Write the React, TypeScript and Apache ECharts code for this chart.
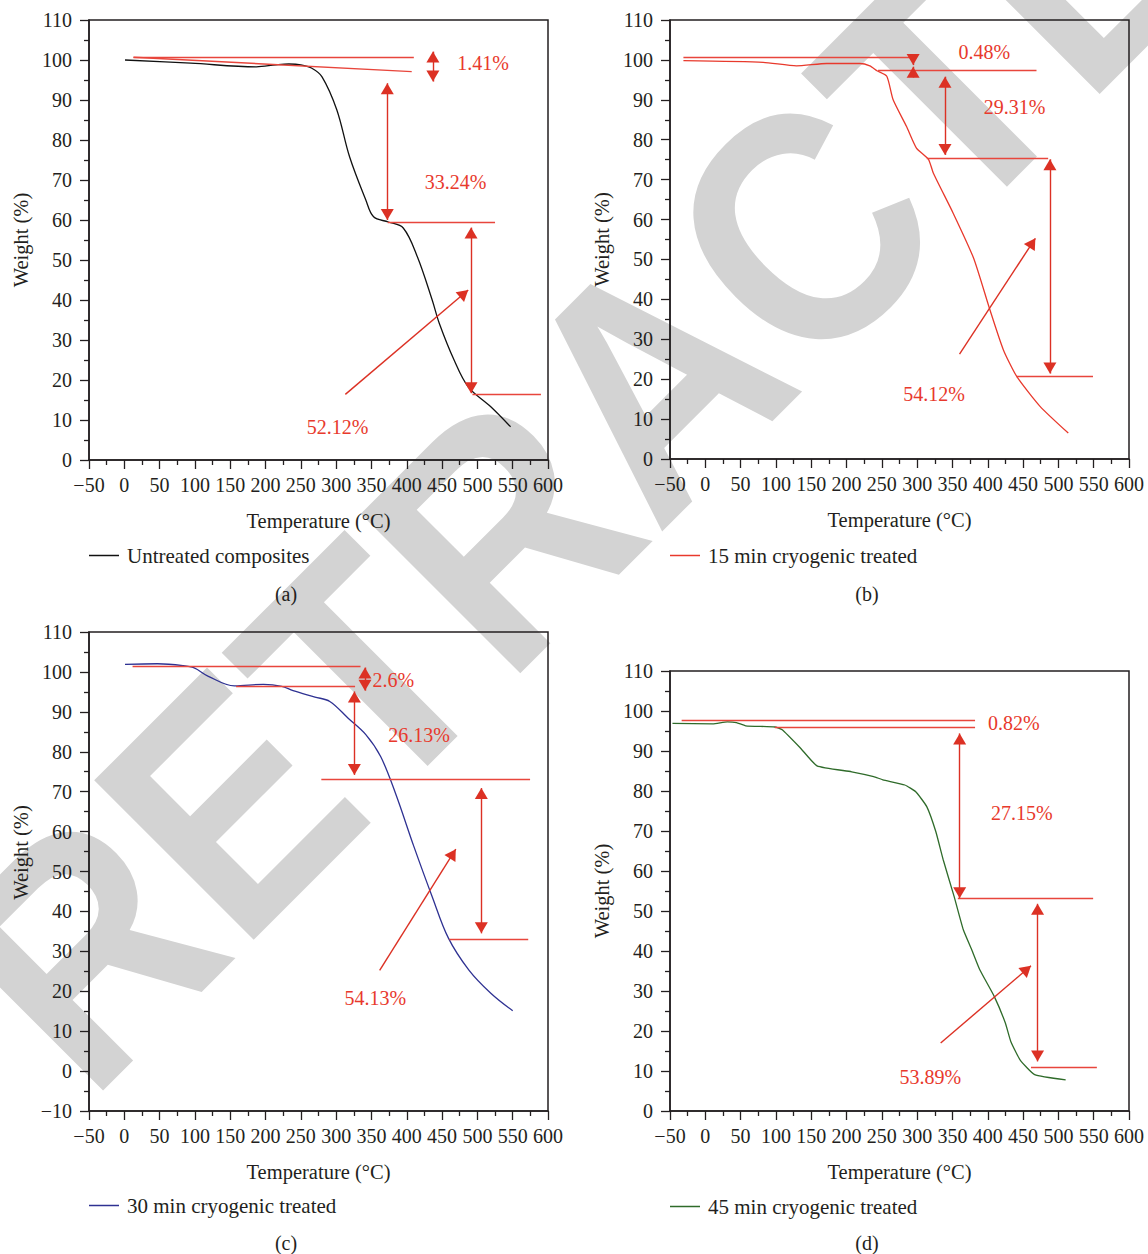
import React, { useEffect, useRef } from "react";
import * as echarts from "echarts";

// ---------- data ----------
const seriesNames = [
  "Untreated composites",
  "15 min cryogenic treated",
  "30 min cryogenic treated",
  "45 min cryogenic treated",
];
const panelCaptions = ["(a)", "(b)", "(c)", "(d)"];
const xTicksMin = -50;
const xTicksMax = 600;
const xTickStep = 50;
const yMins = [0, 0, -10, 0];
const yMax = 110;
const yTickStep = 10;

// (a) untreated
const tempA = [1, 94, 187, 215, 233, 250, 265, 280, 301, 319, 342, 353, 374, 395, 415, 436, 446, 467, 487, 519, 547];
const weightA = [100, 99.2, 98.3, 98.8, 99, 98.8, 98, 95.8, 87.5, 75.8, 65, 60.8, 59.5, 58, 50.8, 40, 34.2, 25, 18.3, 13.3, 8.3];
// (b) 15 min
const tempB = [-31, 82, 129, 172, 219, 233, 243, 257, 266, 285, 299, 316, 323, 351, 380, 403, 422, 441, 474, 514];
const weightB = [99.8, 99.4, 98.5, 99.1, 99.1, 98.5, 97.3, 95.9, 90.0, 83.3, 77.9, 75.1, 71.6, 61.6, 50.3, 37.4, 27.4, 20.7, 13.2, 6.5];
// (c) 30 min
const tempC = [1, 47, 83, 99, 119, 156, 197, 223, 239, 270, 291, 317, 342, 363, 384, 410, 436, 459, 488, 519, 550];
const weightC = [101.9, 102.05, 101.6, 101, 98.9, 96.5, 96.9, 96.4, 95.3, 93.7, 92.6, 88.4, 84.3, 78.8, 69.6, 56.3, 43.7, 33.3, 25.3, 19.5, 15.1];
// (d) 45 min
const tempD = [-46.5, 10.6, 31.2, 44.1, 57.2, 98.5, 108.9, 134.9, 158.2, 207.3, 238.4, 251.4, 282.5, 298, 313.6, 326.5, 336.9, 352.4, 365.4, 377.3, 388.7, 409.3, 424.9, 432.6, 445.7, 466.4, 510.3];
const weightD = [96.9, 96.8, 97.3, 97.1, 96.3, 96, 95.3, 90.7, 86.3, 84.8, 83.6, 82.8, 81.5, 79.8, 76.1, 69.8, 62.8, 53.6, 45.3, 40.3, 35.3, 28.6, 22, 17.4, 12.8, 9.1, 7.8];

// annotation guide lines [x1, y1, x2, y2]
const guidesA = [[13, 100.7, 410, 100.7], [13, 100.7, 407, 97.1], [373, 59.4, 525, 59.4], [493, 16.4, 590, 16.4]];
const guidesB = [[-31, 100.6, 295, 100.6], [244.6, 97.5, 469, 97.5], [313.6, 75.4, 485.5, 75.4], [440.4, 20.7, 549, 20.7]];
const guidesC = [[11.7, 101.3, 334.5, 101.3], [158.3, 96.5, 326.8, 96.5], [279, 73, 574.6, 73], [460.5, 33.1, 572, 33.1]];
const guidesD = [[-33.5, 97.7, 382, 97.7], [98.5, 96, 382, 96], [357.6, 53.1, 549.2, 53.1], [461.2, 10.9, 554.5, 10.9]];

// double-headed arrows [x1, y1, x2, y2]
const doublesA = [[437, 102.1, 437, 94.6], [372.4, 94.2, 372.4, 60], [491, 58.1, 491, 16.7]];
const doublesB = [[339.4, 95.8, 339.4, 76.2], [488, 75.1, 488, 21.4]];
const doublesC = [[340.8, 101.1, 340.8, 95.3], [325.8, 95.1, 325.8, 74.2], [505.6, 70.9, 505.6, 34.5]];
const doublesD = [[360.2, 94.4, 360.2, 53.2], [470.5, 51.8, 470.5, 12.4]];

// single-headed arrows [fromX, fromY, tipX, tipY]
const singlesA = [[313, 16.4, 487, 42.5]];
const singlesB = [[294.3, 101.2, 294.3, 98.7], [294.3, 95.6, 294.3, 98.3], [360, 26.3, 467.4, 55.3]];
const singlesC = [[361.6, 25.2, 469.4, 55.6]];
const singlesD = [[333.3, 17, 461.2, 36.3]];

// percentage labels
const pctTextA = ["1.41%", "33.24%", "52.12%"];
const pctPosA = [[508, 99.2], [469, 69.6], [302, 8.3]];
const pctTextB = ["0.48%", "29.31%", "54.12%"];
const pctPosB = [[395, 102], [438, 88.1], [324, 16.3]];
const pctTextC = ["2.6%", "26.13%", "54.13%"];
const pctPosC = [[381, 98], [417.6, 84.3], [355.4, 18.2]];
const pctTextD = ["0.82%", "27.15%", "53.89%"];
const pctPosD = [[436.8, 96.9], [448.2, 74.6], [318.7, 8.6]];

const watermarkText = "RETRACTED";

// ---------- styling ----------
const SERIF = '"Liberation Serif", "DejaVu Serif", serif';
const INK = "#231f20";
const RED_LINE = "#e8463c";
const RED_ARROW = "#dc3124";
const RED_TEXT = "#e8392c";
const TIP = "path://M0,0L6.5,11L-6.5,11ZM0,-11";
const TIP_SIZE = [13, 22];
const curveColors = ["#111111", "#e8392c", "#2e3192", "#2f6b2a"];

const grids = [
  { left: 89, top: 20, width: 459, height: 440 },
  { left: 670, top: 20, width: 459, height: 439 },
  { left: 89, top: 632, width: 459, height: 479 },
  { left: 670, top: 671, width: 459, height: 440 },
];
const legendPos = [
  { left: 89, top: 545 },
  { left: 670, top: 545 },
  { left: 89, top: 1195 },
  { left: 670, top: 1196 },
];
const captionPos = [[286, 594], [867, 594], [286, 1243], [867, 1243]];

const minus = (v: number) => (v < 0 ? "\u2212" + Math.abs(v) : String(v));

function buildMarkLines(guides: number[][], doubles: number[][], singles: number[][]) {
  const items: any[] = [];
  const ls = (c: string) => ({ color: c, width: 1.4, type: "solid" });
  guides.forEach(([x1, y1, x2, y2]) =>
    items.push([
      { coord: [x1, y1], symbol: "none", lineStyle: ls(RED_LINE), itemStyle: { color: RED_LINE } },
      { coord: [x2, y2], symbol: "none", lineStyle: ls(RED_LINE), itemStyle: { color: RED_LINE } },
    ])
  );
  doubles.forEach(([x1, y1, x2, y2]) =>
    items.push([
      { coord: [x1, y1], symbol: TIP, symbolSize: TIP_SIZE, lineStyle: ls(RED_ARROW), itemStyle: { color: RED_ARROW } },
      { coord: [x2, y2], symbol: TIP, symbolSize: TIP_SIZE, lineStyle: ls(RED_ARROW), itemStyle: { color: RED_ARROW } },
    ])
  );
  singles.forEach(([x1, y1, x2, y2]) =>
    items.push([
      { coord: [x1, y1], symbol: "none", lineStyle: ls(RED_ARROW), itemStyle: { color: RED_ARROW } },
      { coord: [x2, y2], symbol: TIP, symbolSize: TIP_SIZE, lineStyle: ls(RED_ARROW), itemStyle: { color: RED_ARROW } },
    ])
  );
  return items;
}

const panels = [
  { t: tempA, w: weightA, g: guidesA, d: doublesA, s: singlesA, pt: pctTextA, pp: pctPosA, smooth: 0.35 },
  { t: tempB, w: weightB, g: guidesB, d: doublesB, s: singlesB, pt: pctTextB, pp: pctPosB, smooth: 0.2 },
  { t: tempC, w: weightC, g: guidesC, d: doublesC, s: singlesC, pt: pctTextC, pp: pctPosC, smooth: 0.35 },
  { t: tempD, w: weightD, g: guidesD, d: doublesD, s: singlesD, pt: pctTextD, pp: pctPosD, smooth: 0.15 },
];

function buildOption() {
  const grid: any[] = [];
  const xAxis: any[] = [];
  const yAxis: any[] = [];
  const series: any[] = [];
  const legend: any[] = [];
  const graphic: any[] = [];

  graphic.push({
    type: "text",
    z: -10,
    silent: true,
    x: 652,
    y: 381,
    rotation: Math.PI / 4,
    scaleX: 0.9,
    style: {
      text: watermarkText,
      fill: "#d3d3d3",
      font: 'bold 328px "Liberation Sans", "DejaVu Sans", sans-serif',
      align: "center",
      verticalAlign: "middle",
      textAlign: "center",
      textVerticalAlign: "middle",
    },
  });

  panels.forEach((p, i) => {
    grid.push({ ...grids[i], show: true, borderColor: INK, borderWidth: 1.5, backgroundColor: "transparent", containLabel: false });
    const tickStyle = { color: INK, width: 1.3 };
    xAxis.push({
      type: "value",
      gridIndex: i,
      min: xTicksMin,
      max: xTicksMax,
      interval: xTickStep,
      name: "Temperature (\u00B0C)",
      nameLocation: "middle",
      nameGap: 50,
      nameTextStyle: { fontFamily: SERIF, fontSize: 20.5, color: INK },
      axisLine: { show: true, onZero: false, lineStyle: { color: INK, width: 1.5 } },
      axisTick: { show: true, inside: false, length: 9, lineStyle: tickStyle },
      minorTick: { show: true, splitNumber: 2, length: 5, lineStyle: tickStyle },
      axisLabel: { fontFamily: SERIF, fontSize: 20, color: INK, margin: 15, formatter: minus },
      splitLine: { show: false },
      minorSplitLine: { show: false },
    });
    yAxis.push({
      type: "value",
      gridIndex: i,
      min: yMins[i],
      max: yMax,
      interval: yTickStep,
      name: "Weight (%)",
      nameLocation: "middle",
      nameGap: 58,
      nameTextStyle: {
        fontFamily: SERIF,
        fontSize: 20.5,
        color: INK,
        padding: yMins[i] < 0 ? [0, 0, 0, 38] : 0,
      },
      axisLine: { show: true, onZero: false, lineStyle: { color: INK, width: 1.5 } },
      axisTick: { show: true, inside: false, length: 9, lineStyle: tickStyle },
      minorTick: { show: true, splitNumber: 2, length: 5, lineStyle: tickStyle },
      axisLabel: { fontFamily: SERIF, fontSize: 20, color: INK, margin: 17, formatter: minus },
      splitLine: { show: false },
      minorSplitLine: { show: false },
    });
    series.push({
      type: "line",
      name: seriesNames[i],
      xAxisIndex: i,
      yAxisIndex: i,
      data: p.t.map((t, k) => [t, p.w[k]]),
      symbol: "none",
      smooth: p.smooth,
      color: curveColors[i],
      lineStyle: { color: curveColors[i], width: 1.3 },
      z: 3,
      silent: true,
      markLine: {
        silent: true,
        animation: false,
        symbol: ["none", "none"],
        label: { show: false },
        emphasis: { disabled: true },
        lineStyle: { color: RED_LINE, width: 1.4, type: "solid" },
        itemStyle: { color: RED_ARROW },
        data: buildMarkLines(p.g, p.d, p.s),
      },
    });
    series.push({
      type: "scatter",
      name: "labels-" + i,
      xAxisIndex: i,
      yAxisIndex: i,
      symbolSize: 1,
      itemStyle: { color: "rgba(0,0,0,0)" },
      silent: true,
      z: 4,
      data: p.pt.map((txt, k) => ({ name: txt, value: p.pp[k] })),
      label: {
        show: true,
        position: "inside",
        formatter: "{b}",
        fontFamily: SERIF,
        fontSize: 20,
        color: RED_TEXT,
        opacity: 1,
        align: "center",
        verticalAlign: "middle",
      },
    });
    legend.push({
      data: [seriesNames[i]],
      ...legendPos[i],
      orient: "horizontal",
      padding: 0,
      icon: "rect",
      itemWidth: 30,
      itemHeight: 1.5,
      selectedMode: false,
      textStyle: { fontFamily: SERIF, fontSize: 21, color: INK, padding: [0, 0, 0, 3] },
    });
    graphic.push({
      type: "text",
      silent: true,
      x: captionPos[i][0],
      y: captionPos[i][1],
      style: {
        text: panelCaptions[i],
        fill: INK,
        font: '20px "Liberation Serif", "DejaVu Serif", serif',
        align: "center",
        verticalAlign: "middle",
        textAlign: "center",
        textVerticalAlign: "middle",
      },
    });
  });

  return {
    animation: false,
    backgroundColor: "#ffffff",
    grid,
    xAxis,
    yAxis,
    series,
    legend,
    graphic,
  };
}

export default function App() {
  const ref = useRef<HTMLDivElement>(null);
  useEffect(() => {
    if (!ref.current) return;
    const chart = echarts.init(ref.current, undefined, { renderer: "svg" });
    chart.setOption(buildOption() as any);
    return () => chart.dispose();
  }, []);
  return (
    <div
      ref={ref}
      style={{ position: "absolute", left: 0, top: 0, width: 1148, height: 1254, background: "#fff" }}
    />
  );
}
